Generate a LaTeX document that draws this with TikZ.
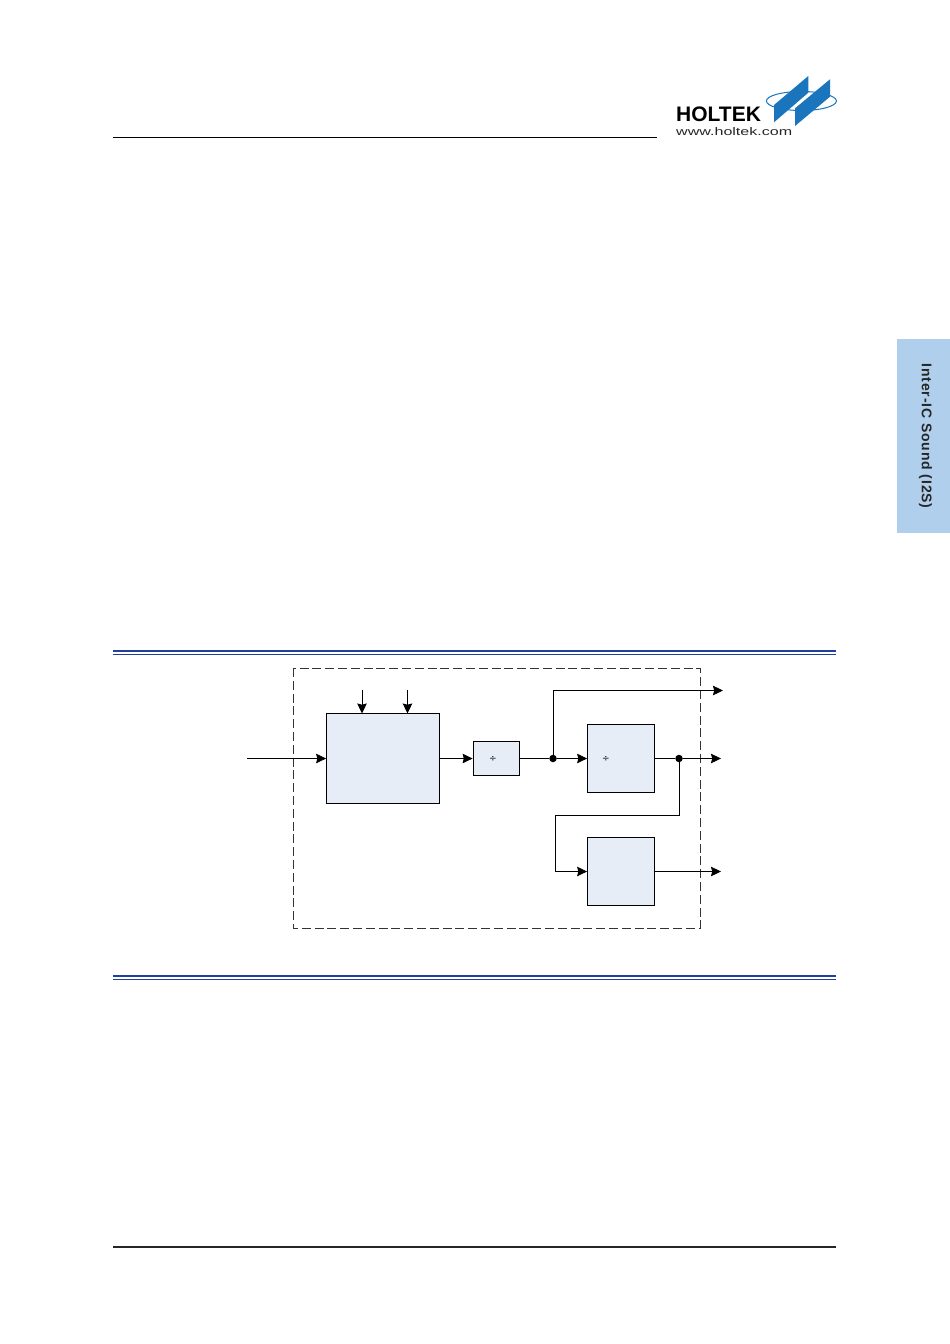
\documentclass[tikz,border=0pt]{standalone}
\usepackage{graphicx}
\usepackage{fontspec}
\setmainfont{Liberation Sans}
\newfontfamily\divfont{DejaVu Sans}
\newfontfamily\tabfont[LetterSpace=6]{Liberation Sans}
\definecolor{tabblue}{HTML}{B0CFEC}
\definecolor{boxblue}{HTML}{E6EDF7}
\definecolor{rulecol}{HTML}{21409A}
\definecolor{logoblue}{HTML}{1B75BC}
\usetikzlibrary{arrows.meta}
\tikzset{
 blockbox/.style={draw=black,fill=boxblue,line width=0.8pt,inner sep=0pt},
 conn/.style={draw=black,line width=0.85pt},
 arr/.style={conn,-{Stealth[length=10pt,width=9.5pt,inset=1.2pt]}},
 dotnode/.style={circle,fill=black,inner sep=0pt,minimum size=7.5pt},
 divlabel/.style={font=\divfont\fontsize{9}{10}\selectfont,inner sep=0pt},
 blueband/.style={draw=none,fill=rulecol}
}
\begin{document}
\begin{tikzpicture}[x=1pt,y=-1pt]
\useasboundingbox (0,0) rectangle (950,1344);
\fill[white] (0,0) rectangle (950,1344);
% header
\draw[line width=0.8pt,black] (113,137.5) -- (657,137.5);
\node[anchor=west,inner sep=0pt,font=\bfseries\fontsize{21}{21}\selectfont] (brand) at (676,114.5) {HOLTEK};
\node[anchor=west,inner sep=0pt,font=\fontsize{11}{12}\selectfont,text=black!85] (web) at (676,132) {\scalebox{1.46}[1]{www.holtek.com}};
\draw[logoblue,line width=1pt] (801.4,101) ellipse (35 and 9.5);
\fill[logoblue] (774,105) -- (808.3,76) -- (808.3,92.7) -- (774,122.3) -- cycle;
\fill[logoblue] (795,108.3) -- (830,79.3) -- (830,96.7) -- (795,126) -- cycle;
% side tab
\fill[tabblue] (897,339) rectangle (950,533);
\node[rotate=-90,font=\tabfont\bfseries\fontsize{14}{16}\selectfont,text=black!85] (tab) at (925.5,436) {Inter-IC Sound (I2S)};
% rules
\fill[blueband] (113,650.2) rectangle (836,652.4);
\fill[blueband] (113,653.7) rectangle (836,654.8);
\fill[blueband] (113,975.2) rectangle (836,977.4);
\fill[blueband] (113,978.7) rectangle (836,979.8);
\draw[line width=1.2pt,black!85] (113,1247) -- (836,1247);
% dashed frame
\draw[black!80,line width=1pt,dash pattern=on 9pt off 3.8pt] (293,668) rectangle (700,928);
% blocks
\node[blockbox,minimum width=113pt,minimum height=90pt] (pll) at (383,758.5) {};
\node[blockbox,minimum width=46pt,minimum height=34pt] (div1) at (496,758.5) {};
\node[blockbox,minimum width=67pt,minimum height=68pt] (div2) at (621,758.5) {};
\node[blockbox,minimum width=67pt,minimum height=68pt] (div3) at (621,871.5) {};
\node[divlabel] (d1) at (493,759) {÷};
\node[divlabel] (d2) at (606,759) {÷};
\node[dotnode] (j1) at (553,758.5) {};
\node[dotnode] (j2) at (679,758.5) {};
\coordinate (in) at (247,758.5);
\coordinate (c1) at (362,690);
\coordinate (c2) at (407.5,690);
\coordinate (c1e) at (362,713.5);
\coordinate (c2e) at (407.5,713.5);
\coordinate (o1) at (723,690.5);
\coordinate (o2) at (721,758.5);
\coordinate (o3) at (721,871.5);
\draw[arr] (in) -- (pll.west);
\draw[arr] (c1) -- (c1e);
\draw[arr] (c2) -- (c2e);
\draw[arr] (pll.east) -- (div1.west);
\draw[conn] (div1.east) -- (j1);
\draw[arr] (j1) -- (div2.west);
\draw[arr] (j1) |- (o1);
\draw[conn] (div2.east) -- (j2);
\draw[arr] (j2) -- (o2);
\draw[arr] (j2) |- (555.5,815) |- (div3.west);
\draw[arr] (div3.east) -- (o3);
\end{tikzpicture}
\end{document}
